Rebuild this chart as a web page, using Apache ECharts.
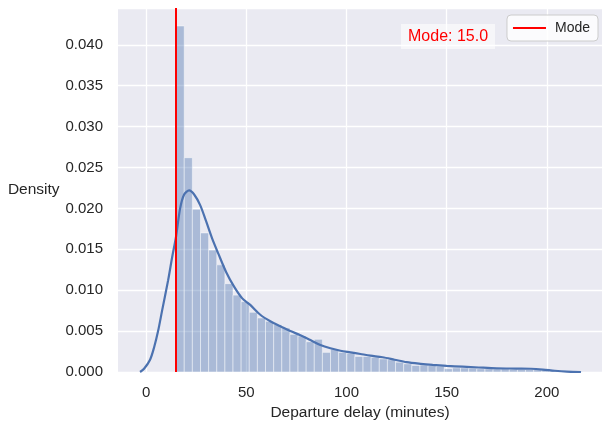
<!DOCTYPE html>
<html>
<head>
<meta charset="utf-8">
<script src="https://cdn.jsdelivr.net/npm/echarts@6/dist/echarts.min.js"></script>
<style>
  html, body { margin: 0; padding: 0; background: #ffffff; }
  #main { width: 602px; height: 421px; }
</style>
</head>
<body>
<div id="main"></div>
<script>
// histogram: bins start at the mode, 50 equal bins
const binStart = 15;
const binWidth = 4.055;
const binDensity = [
  0.0423, 0.0262, 0.0199, 0.0170, 0.0149, 0.0131, 0.0108, 0.0094, 0.0086, 0.0073,
  0.0066, 0.0062, 0.0058, 0.0054, 0.0046, 0.0044, 0.0037, 0.0040, 0.0024, 0.0028,
  0.0024, 0.0023, 0.0019, 0.0019, 0.0018, 0.0016, 0.0015, 0.0012, 0.0010, 0.0008,
  0.00085, 0.0008, 0.0007, 0.0004, 0.0005, 0.0005, 0.00045, 0.0004, 0.0004, 0.00035,
  0.0004, 0.00035, 0.0003, 0.0003, 0.00035, 0.0003, 0.0002, 0.00015, 0.0001, 0.00008
];

// kde curve
const kdeX = [-3, -1, 2, 4, 6, 8, 11, 13, 15, 17, 19, 21.5, 24, 27, 30, 33, 36, 40, 44, 48,
  52, 57, 62, 67, 72, 77, 82, 87, 92, 97, 102, 107, 112, 118, 124, 130, 137, 143, 150, 158,
  166, 175, 185, 192, 198, 204, 210, 217];
const kdeY = [0, 0.0004, 0.0015, 0.0030, 0.0050, 0.0075, 0.0112, 0.0140, 0.0166, 0.0200, 0.0217, 0.0222, 0.0217, 0.0204, 0.0184, 0.0163, 0.0145, 0.0122, 0.0104, 0.0090,
  0.0082, 0.0070, 0.0062, 0.0056, 0.0050, 0.0045, 0.0039, 0.0033, 0.0029, 0.0026, 0.0024, 0.0022, 0.0020, 0.0018, 0.0015, 0.0012, 0.0010, 0.00087, 0.00075, 0.00065,
  0.00055, 0.00045, 0.00042, 0.0004, 0.0003, 0.00015, 0.00005, 0];

const modeValue = 15.0;
const xTicks = [0, 50, 100, 150, 200];

const histData = binDensity.map((d, i) => [binStart + i * binWidth, binStart + (i + 1) * binWidth, d]);
const kdeData = kdeX.map((x, i) => [x, kdeY[i]]);

const chart = echarts.init(document.getElementById('main'), null, { renderer: 'canvas' });

const textColor = '#262626';
const font = 'Liberation Sans, Arial, sans-serif';

const option = {
  animation: false,
  textStyle: { fontFamily: font },
  grid: {
    left: 118, right: 0, top: 8, bottom: 49,
    outerBoundsMode: 'none', containLabel: false,
    show: true, backgroundColor: '#eaeaf2', borderWidth: 0
  },
  legend: {
    data: [{ name: 'Mode', icon: 'rect' }],
    right: 4, top: 15,
    itemWidth: 33, itemHeight: 2,
    padding: [6, 8, 6, 6],
    itemGap: 10,
    backgroundColor: 'rgba(255,255,255,0.8)',
    borderColor: '#cccccc', borderWidth: 1, borderRadius: 4,
    textStyle: { color: textColor, fontSize: 14, fontFamily: font, padding: [0, 0, 0, 4] }
  },
  xAxis: {
    type: 'value', min: -14, max: 227.5,
    name: 'Departure delay (minutes)', nameLocation: 'middle', nameGap: 31,
    nameTextStyle: { color: textColor, fontSize: 15.5, fontFamily: font },
    axisLine: { show: false },
    axisTick: { show: false, customValues: xTicks },
    axisLabel: { customValues: xTicks, color: textColor, fontSize: 15, margin: 13, fontFamily: font },
    splitLine: { show: true, lineStyle: { color: '#ffffff', width: 1.3 } }
  },
  yAxis: {
    type: 'value', min: 0, max: 0.0445, interval: 0.005,
    name: 'Density', nameLocation: 'middle', nameRotate: 0, nameGap: 58,
    nameTextStyle: { color: textColor, fontSize: 15.5, fontFamily: font, padding: [0, 0, 14, 0] },
    axisLine: { show: false },
    axisTick: { show: false },
    axisLabel: {
      color: textColor, fontSize: 15, margin: 15, fontFamily: font,
      showMaxLabel: false, formatter: v => v.toFixed(3)
    },
    splitLine: { show: true, lineStyle: { color: '#ffffff', width: 1.3 } }
  },
  graphic: [{
    type: 'text', left: 401, top: 24, z: 100,
    style: {
      text: 'Mode: ' + modeValue.toFixed(1),
      fill: '#ff0000', fontSize: 16, fontFamily: font,
      backgroundColor: 'rgba(255,255,255,0.55)', padding: [5, 7, 4, 7]
    }
  }],
  series: [
    {
      name: 'hist', type: 'custom', z: 2,
      data: histData,
      renderItem: function (params, api) {
        const p0 = api.coord([api.value(0), api.value(2)]);
        const p1 = api.coord([api.value(1), 0]);
        return {
          type: 'rect',
          shape: { x: p0[0], y: p0[1], width: p1[0] - p0[0], height: p1[1] - p0[1] },
          style: { fill: 'rgba(76,114,176,0.4)', stroke: 'rgba(255,255,255,0.45)', lineWidth: 1 }
        };
      },
      silent: true
    },
    {
      name: 'kde', type: 'line', z: 3,
      data: kdeData, smooth: 0.3, showSymbol: false,
      lineStyle: { color: '#4c72b0', width: 2.2 }, silent: true
    },
    {
      name: 'Mode', type: 'line', z: 4, data: [],
      itemStyle: { color: '#ff0000' },
      lineStyle: { color: '#ff0000', width: 2 },
      markLine: {
        symbol: 'none', silent: true, z: 4,
        label: { show: false },
        lineStyle: { color: '#ff0000', width: 2, type: 'solid' },
        data: [{ xAxis: modeValue }]
      }
    }
  ]
};

chart.setOption(option);
</script>
</body>
</html>
